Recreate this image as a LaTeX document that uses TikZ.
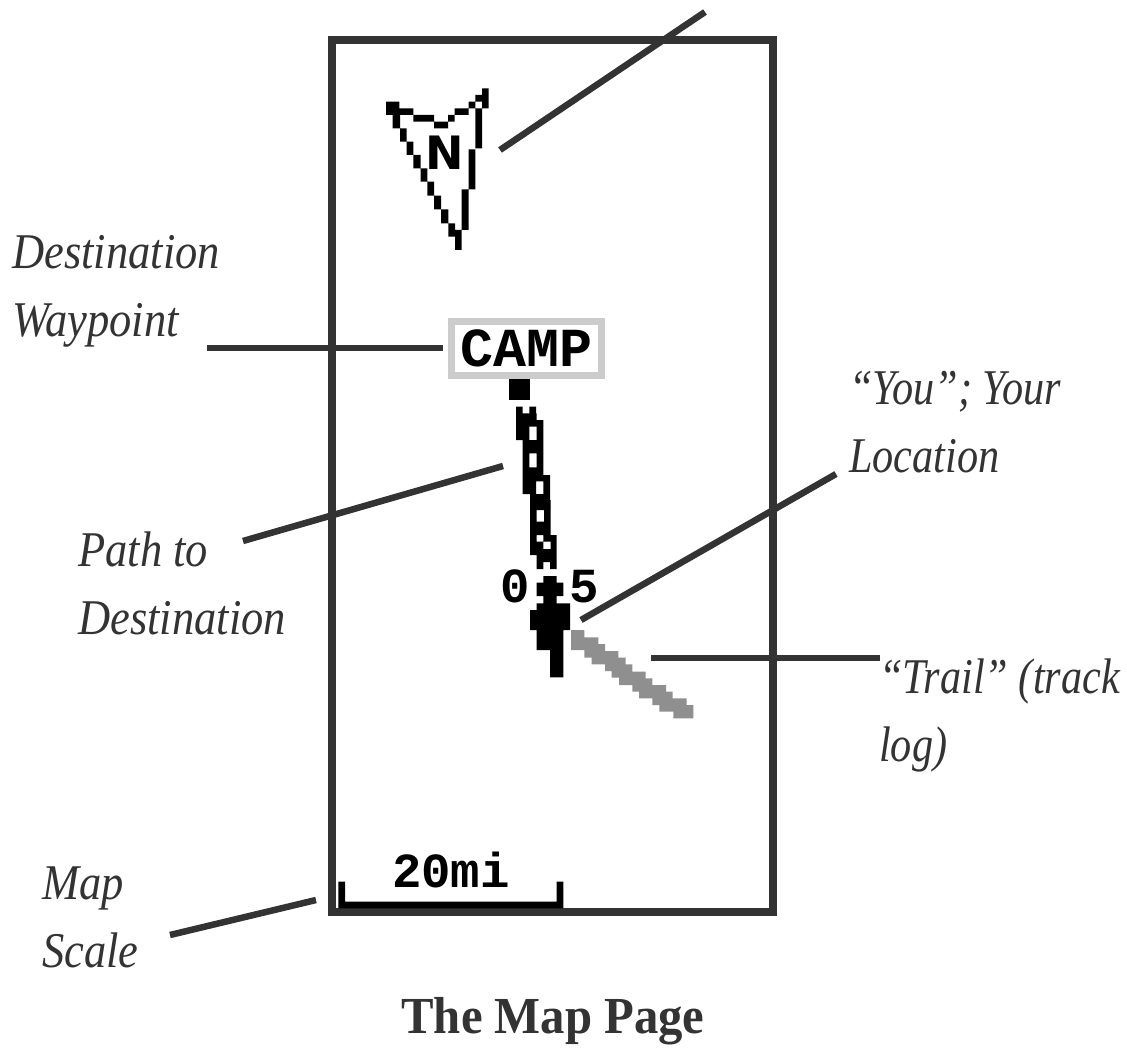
\documentclass[tikz,border=0pt]{standalone}
\usepackage{fontspec}
\setmainfont{Liberation Serif}
\newfontfamily\labfont[FakeStretch=0.89,Color=333333]{Liberation Serif Italic}
\newfontfamily\labnarrow[FakeStretch=0.845,Color=333333]{Liberation Serif Italic}
\newfontfamily\pixfont{Liberation Mono Bold}
\newfontfamily\northfont{DejaVu Sans Bold}
\newfontfamily\titlefont[FakeStretch=0.937]{Liberation Serif Bold}
\definecolor{ink}{HTML}{333333}
\definecolor{trailgray}{HTML}{8F8F8F}
\definecolor{boxgray}{HTML}{CCCCCC}
\tikzset{
  leader/.style={draw=ink,line width=6.5pt},
  frameline/.style={draw=ink,line width=8pt},
  lab/.style={anchor=base west,align=left,inner sep=0pt,font=\labfont\fontsize{50}{68}\selectfont},
  labq/.style={lab,font=\labnarrow\fontsize{50}{68}\selectfont},
  pix/.style={anchor=base,inner sep=0pt,text=black,font=\pixfont\fontsize{49}{49}\selectfont},
  ttl/.style={anchor=base,inner sep=0pt,text=ink,font=\titlefont\fontsize{52}{52}\selectfont},
  zoomA/.style={shift={(370,80)},x=0.33333pt,y=-0.33333pt},
  zoomB/.style={shift={(440,310)},x=0.33333pt,y=-0.33333pt},
  zoomC/.style={shift={(490,500)},x=0.33333pt,y=-0.33333pt},
  zoomD/.style={shift={(320,840)},x=0.33333pt,y=-0.33333pt},
  zoomE/.style={shift={(565,625)},x=0.33333pt,y=-0.33333pt},
}
\begin{document}
\begin{tikzpicture}[x=1pt,y=-1pt]
\useasboundingbox (0,0) rectangle (1127,1049);
% frame
\draw[frameline] (332,40) rectangle (772.5,912);
% north arrow outline
\begin{scope}[zoomA]
\fill[black]
 (48,65) rectangle (88,85) (48,85) rectangle (68,105) (68,85) rectangle (130,105)
 (68,105) rectangle (90,145) (90,145) rectangle (110,185) (110,185) rectangle (130,225)
 (130,225) rectangle (152,265) (152,265) rectangle (172,305) (172,305) rectangle (192,347)
 (192,347) rectangle (213,388) (213,388) rectangle (235,430) (235,430) rectangle (255,470)
 (255,450) rectangle (275,510) (275,328) rectangle (296,450) (296,208) rectangle (316,328)
 (316,85) rectangle (336,205) (296,65) rectangle (316,85) (316,45) rectangle (336,65)
 (336,25) rectangle (356,85) (254,85) rectangle (296,105) (234,105) rectangle (254,125)
 (192,125) rectangle (234,145) (130,105) rectangle (192,125);
\end{scope}
\node[pix,font=\northfont\fontsize{46}{46}\selectfont] (north) at (445,169) {N};
% destination
\node[draw=boxgray,line width=7pt,minimum width=150pt,minimum height=54pt,inner sep=0pt] (campbox) at (526.5,348.5) {};
\node[pix,font=\pixfont\fontsize{55}{55}\selectfont] (camp) at (526.5,366) {CAMP};
\fill[black] (509,379) rectangle (530,400);
% dashed path to destination
\begin{scope}[zoomB]
\fill[black,even odd rule]
 (228,290) rectangle (248,310) (268,290) rectangle (288,310) (228,310) rectangle (290,330)
 (228,330) -- (310,330) -- (310,495) -- (330,495) -- (330,600) -- (270,600) -- (270,552)
 -- (248,552) -- (248,390) -- (228,390) -- cycle
 (268,350) rectangle (290,390) (268,430) rectangle (290,472) (288,514) rectangle (310,552);
\end{scope}
\begin{scope}[zoomC]
\fill[black,even odd rule]
 (120,0) -- (182,0) -- (182,105) -- (200,105) -- (200,186) -- (140,186) -- (140,165) -- (120,165) -- cycle
 (140,22) rectangle (162,65) (140,105) rectangle (160,125) (160,125) rectangle (182,147);
\fill[black] (140,186) rectangle (160,207) (180,186) rectangle (200,207);
% person
\fill[black] (160,228) rectangle (200,248) (140,248) rectangle (220,288) (160,288) rectangle (200,310)
 (140,310) rectangle (240,330) (120,330) rectangle (240,390) (140,390) rectangle (220,450) (180,450) rectangle (220,532);
\end{scope}
% trail
\begin{scope}[zoomE]
\fill[trailgray] (18,15) -- (58,15) -- (58,37) -- (100,37) -- (100,57) -- (120,57) -- (120,78) -- (160,78)
 -- (160,98) -- (182,98) -- (182,118) -- (202,118) -- (202,140) -- (242,140) -- (242,160) -- (262,160)
 -- (262,180) -- (303,180) -- (303,200) -- (323,200) -- (323,220) -- (365,220) -- (365,240) -- (385,240)
 -- (385,280) -- (325,280) -- (325,260) -- (283,260) -- (283,240) -- (262,240) -- (262,220) -- (222,220)
 -- (222,200) -- (202,200) -- (202,180) -- (162,180) -- (162,158) -- (140,158) -- (140,138) -- (120,138)
 -- (120,118) -- (80,118) -- (80,98) -- (58,98) -- (58,75) -- (18,75) -- cycle;
\end{scope}
\node[pix] (zero) at (515,602) {0};
\node[pix] (five) at (584,602) {5};
% map scale
\begin{scope}[zoomD]
\fill[black] (55,125) rectangle (75,205) (710,125) rectangle (730,205) (55,185) rectangle (730,205);
\end{scope}
\node[pix] (scale) at (451,887) {20mi};
% labels
\node[lab] (ldest) at (12,336) {Destination\\Waypoint};
\node[lab] (lpath) at (78,634) {Path to\\Destination};
\node[labq] (lyou) at (849,472) {“You”; Your\\Location};
\node[labq] (ltrail) at (879,761) {“Trail” (track\\log)};
\node[lab] (lmap) at (42,967) {Map\\Scale};
\node[ttl] (title) at (553,1033) {The Map Page};
% leaders
\coordinate (n1) at (705,12); \coordinate (n2) at (500,150);
\coordinate (d1) at (207,348); \coordinate (d2) at (443,348);
\coordinate (p1) at (243,541); \coordinate (p2) at (503,466);
\coordinate (y1) at (836,474); \coordinate (y2) at (581,620);
\coordinate (t1) at (880,658); \coordinate (t2) at (651,658);
\coordinate (m1) at (170,935); \coordinate (m2) at (316,900);
\draw[leader] (n1) -- (n2);
\draw[leader] (d1) -- (d2);
\draw[leader] (p1) -- (p2);
\draw[leader] (y1) -- (y2);
\draw[leader] (t1) -- (t2);
\draw[leader] (m1) -- (m2);
\end{tikzpicture}
\end{document}
